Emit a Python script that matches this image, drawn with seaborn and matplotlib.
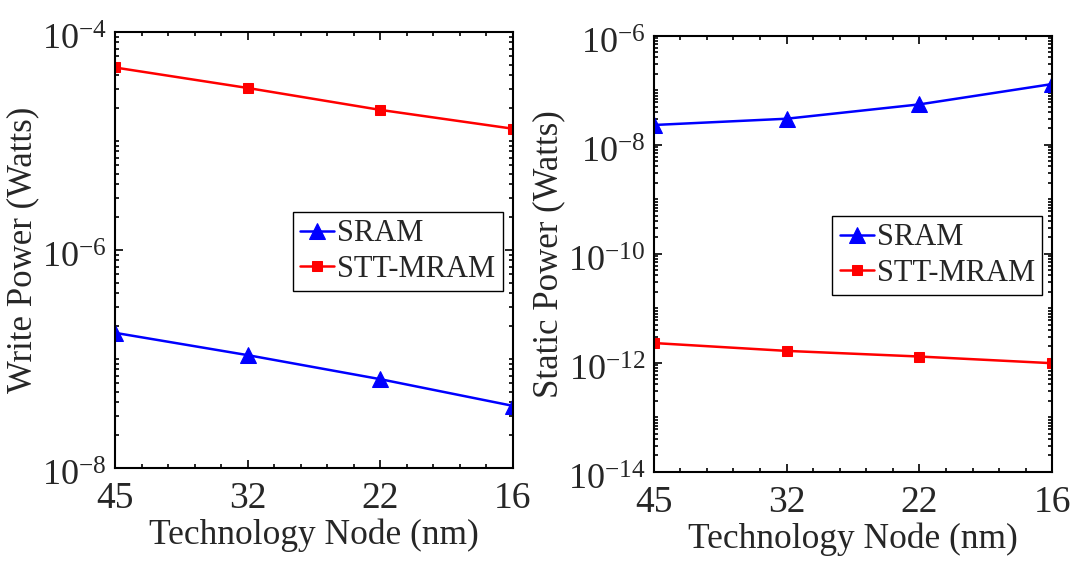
import numpy as np
import pandas as pd
import seaborn as sns
import matplotlib
matplotlib.use("Agg")
import matplotlib.pyplot as plt
import matplotlib.transforms as mtransforms
from matplotlib.ticker import FixedLocator, AutoMinorLocator, NullFormatter, LogFormatterMathtext

# Data
nodes = ["45", "32", "22", "16"]
write_sram = [1.73e-7, 1.08e-7, 6.5e-8, 3.7e-8]
write_stt = [4.7e-5, 3.05e-5, 1.92e-5, 1.29e-5]
static_sram = [2.3e-8, 3.0e-8, 5.5e-8, 1.3e-7]
static_stt = [2.3e-12, 1.65e-12, 1.3e-12, 0.98e-12]
write_exp = (-8, -4)
static_exp = (-14, -6)

sns.set_style("ticks")
plt.rcParams["font.family"] = ["Liberation Serif", "DejaVu Serif"]
plt.rcParams["mathtext.fontset"] = "custom"
plt.rcParams["mathtext.rm"] = "Liberation Serif"
plt.rcParams["mathtext.it"] = "Liberation Serif:italic"

pos = np.arange(len(nodes))
df_write = pd.DataFrame({"pos": pos, "SRAM": write_sram, "STT-MRAM": write_stt})
df_static = pd.DataFrame({"pos": pos, "SRAM": static_sram, "STT-MRAM": static_stt})

fig = plt.figure(figsize=(10.75, 5.67), dpi=100)
ax1 = fig.add_axes([0.107, 0.175, 0.370, 0.769])
ax2 = fig.add_axes([0.608, 0.168, 0.371, 0.769])


def draw(ax, df, exps, ylabel):
    sns.lineplot(data=df, x="pos", y="SRAM", ax=ax, color="blue", marker="^",
                 markersize=12, markeredgecolor="blue", linewidth=1.8, label="SRAM")
    sns.lineplot(data=df, x="pos", y="STT-MRAM", ax=ax, color="red", marker="s",
                 markersize=7.5, markeredgecolor="red", linewidth=1.8, label="STT-MRAM")
    lo, hi = exps
    ax.set_yscale("log")
    ax.set_ylim(10.0 ** lo, 10.0 ** hi)
    ax.set_xlim(0, len(nodes) - 1)
    ax.set_xticks(pos)
    ax.set_xticklabels(nodes)
    ax.xaxis.set_minor_locator(AutoMinorLocator(5))
    # major ticks every two decades, minor ticks 1..9 inside each decade
    ax.yaxis.set_major_locator(FixedLocator(10.0 ** np.arange(lo, hi + 1, 2)))
    ax.yaxis.set_major_formatter(LogFormatterMathtext(base=10))
    minors = [m * 10.0 ** e for e in range(lo, hi) for m in range(1, 10)]
    ax.yaxis.set_minor_locator(FixedLocator(minors))
    ax.yaxis.set_minor_formatter(NullFormatter())
    ax.tick_params(which="both", direction="in", top=True, right=True,
                   color="black", width=1.2)
    ax.tick_params(which="major", length=6)
    ax.tick_params(which="minor", length=3)
    ax.tick_params(axis="x", pad=10, labelsize=27)
    ax.tick_params(axis="y", pad=6, labelsize=26)
    # labels sit a little below their ticks, like in the original
    shift = mtransforms.ScaledTranslation(0, -4 / 72, fig.dpi_scale_trans)
    for t in ax.get_yticklabels():
        t.set_transform(t.get_transform() + shift)
    for s in ax.spines.values():
        s.set_color("black")
        s.set_linewidth(1.5)
    ax.set_xlabel("Technology Node (nm)", fontsize=25.5, labelpad=2)
    ax.set_ylabel(ylabel, fontsize=25, labelpad=2)
    leg = ax.legend(loc="lower right", bbox_to_anchor=(0.975, 0.405), fontsize=22,
                    frameon=True, fancybox=False, framealpha=1, edgecolor="black",
                    handlelength=1.1, handletextpad=0.1, borderpad=0.25,
                    labelspacing=0.2, borderaxespad=0)
    leg.get_frame().set_linewidth(1.0)


draw(ax1, df_write, write_exp, "Write Power (Watts)")
draw(ax2, df_static, static_exp, "Static Power (Watts)")

fig.savefig("out.png", dpi=100)
